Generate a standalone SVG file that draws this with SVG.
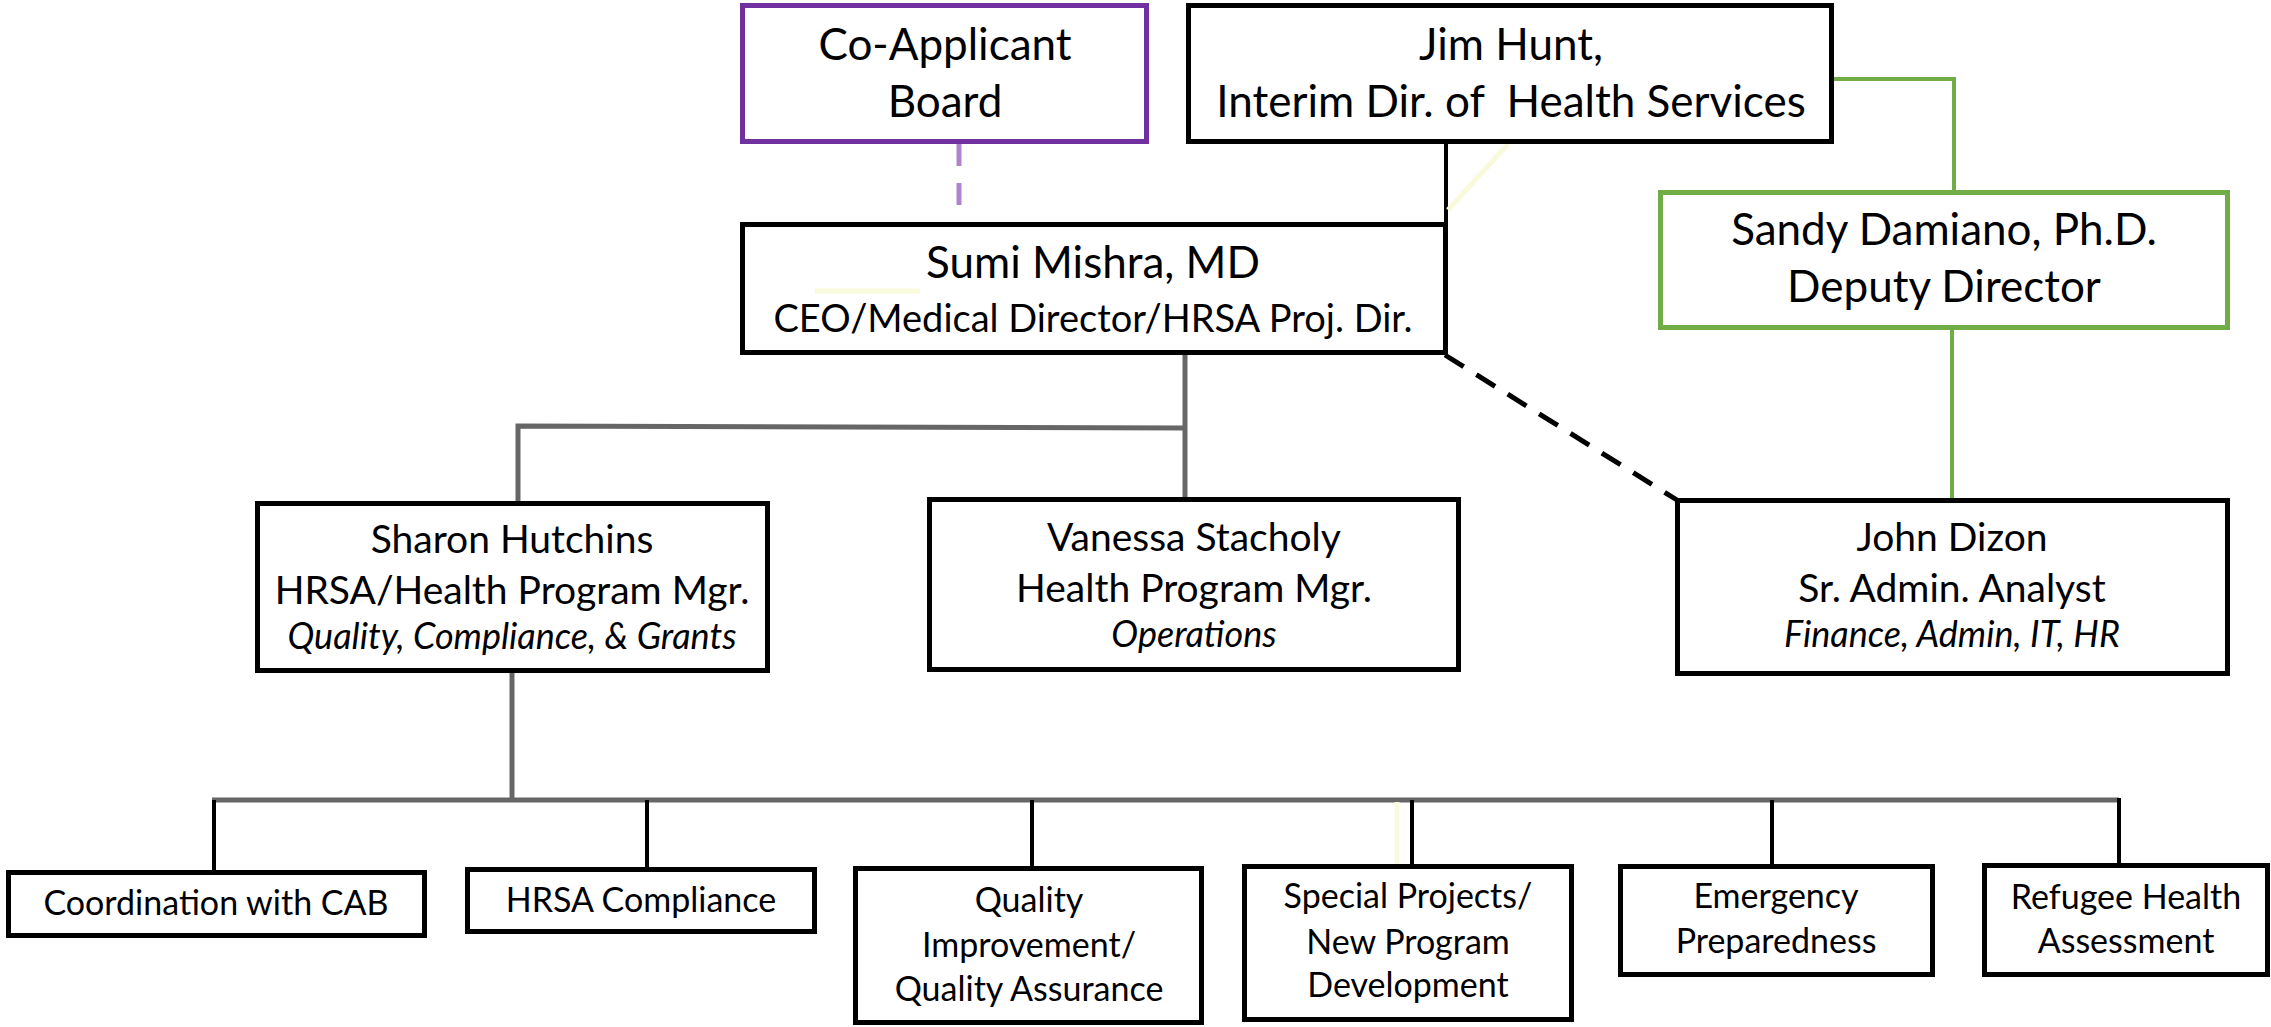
<svg xmlns="http://www.w3.org/2000/svg" width="2271" height="1027" viewBox="0 0 2271 1027">
<style>
text{font-family:Lato,"Open Sans","Liberation Sans",sans-serif;fill:#000;text-anchor:middle}
.box{fill:#fff;stroke:#000;stroke-width:5}
.purple{fill:#fff;stroke:#7030a0;stroke-width:5}
.green{fill:#fff;stroke:#70ad47;stroke-width:5}
.big{font-size:44px}
.ceo{font-size:38px}
.mid{font-size:39px}
.it{font-size:36px;font-style:italic}
.sm{font-size:34px}
.gray{stroke:#666;stroke-width:5;fill:none}
.blk{stroke:#000;stroke-width:4;fill:none}
.gln{stroke:#70ad47;stroke-width:4;fill:none}
.pale{stroke:#f8fadb;stroke-width:5;fill:none}
</style>
<rect width="2271" height="1027" fill="#fff"/>
<g id="connectors">
<line x1="959" y1="144" x2="959" y2="222" stroke="#b084cc" stroke-width="5" stroke-dasharray="22,17"/>
<line class="blk" x1="1446" y1="142" x2="1446" y2="226" stroke-width="5"/>
<line class="pale" x1="1508" y1="144" x2="1448" y2="210"/>
<polyline class="gln" points="1834,79 1954,79 1954,191"/>
<line class="gln" x1="1952" y1="328" x2="1952" y2="500"/>
<line x1="1445" y1="355" x2="1677" y2="500" stroke="#000" stroke-width="5" stroke-dasharray="22,15"/>
<polyline class="gray" points="1185,355 1185,428"/>
<polyline class="gray" points="1187,428 518,426 518,502"/>
<line class="gray" x1="1185" y1="428" x2="1185" y2="498"/>
<line class="gray" x1="512" y1="673" x2="512" y2="800"/>
<line class="gray" x1="212" y1="800" x2="2119" y2="800"/>
<line class="blk" x1="214" y1="800" x2="214" y2="871"/>
<line class="blk" x1="647" y1="800" x2="647" y2="868"/>
<line class="blk" x1="1032" y1="800" x2="1032" y2="867"/>
<line class="pale" x1="1397" y1="802" x2="1397" y2="872" stroke-width="3"/>
<line class="blk" x1="1412" y1="800" x2="1412" y2="865"/>
<line class="blk" x1="1772" y1="800" x2="1772" y2="865"/>
<line class="blk" x1="2119" y1="798" x2="2119" y2="864"/>
</g>
<g id="co-applicant-board">
<rect class="purple" x="742.5" y="5.5" width="404" height="136"/>
<text class="big" x="945" y="60">Co-Applicant</text>
<text class="big" x="945" y="117">Board</text>
</g>
<g id="jim-hunt">
<rect class="box" x="1188.5" y="5.5" width="643" height="136"/>
<text class="big" x="1511" y="60">Jim Hunt,</text>
<text class="big" x="1511" y="117" xml:space="preserve">Interim Dir. of  Health Services</text>
</g>
<g id="sumi-mishra">
<rect class="box" x="742.5" y="224.5" width="703" height="128"/>
<line class="pale" x1="815" y1="291" x2="920" y2="291"/>
<text class="big" x="1093" y="278">Sumi Mishra, MD</text>
<text class="ceo" x="1093" y="332">CEO/Medical Director/HRSA Proj. Dir.</text>
</g>
<g id="sandy-damiano">
<rect class="green" x="1660.5" y="192.5" width="567" height="135"/>
<text class="big" x="1944" y="245">Sandy Damiano, Ph.D.</text>
<text class="big" x="1944" y="302">Deputy Director</text>
</g>
<g id="sharon-hutchins">
<rect class="box" x="257.5" y="503.5" width="510" height="167"/>
<text class="mid" x="512" y="553">Sharon Hutchins</text>
<text class="mid" x="512" y="604">HRSA/Health Program Mgr.</text>
<text class="it" x="512" y="649">Quality, Compliance, &amp; Grants</text>
</g>
<g id="vanessa-stacholy">
<rect class="box" x="929.5" y="499.5" width="529" height="170"/>
<text class="mid" x="1194" y="551">Vanessa Stacholy</text>
<text class="mid" x="1194" y="602">Health Program Mgr.</text>
<text class="it" x="1194" y="647">Operations</text>
</g>
<g id="john-dizon">
<rect class="box" x="1677.5" y="500.5" width="550" height="173"/>
<text class="mid" x="1952" y="551">John Dizon</text>
<text class="mid" x="1952" y="602">Sr. Admin. Analyst</text>
<text class="it" x="1952" y="647">Finance, Admin, IT, HR</text>
</g>
<g id="coordination-cab">
<rect class="box" x="8.5" y="872.5" width="416" height="63"/>
<text class="sm" x="216" y="915">Coordination with CAB</text>
</g>
<g id="hrsa-compliance">
<rect class="box" x="467.5" y="869.5" width="347" height="62"/>
<text class="sm" x="641" y="912">HRSA Compliance</text>
</g>
<g id="quality">
<rect class="box" x="855.5" y="868.5" width="346" height="154"/>
<text class="sm" x="1029" y="912">Quality</text>
<text class="sm" x="1029" y="957">Improvement/</text>
<text class="sm" x="1029" y="1001">Quality Assurance</text>
</g>
<g id="special-projects">
<rect class="box" x="1244.5" y="866.5" width="327" height="153"/>
<text class="sm" x="1408" y="908">Special Projects/</text>
<text class="sm" x="1408" y="954">New Program</text>
<text class="sm" x="1408" y="997">Development</text>
</g>
<g id="emergency">
<rect class="box" x="1620.5" y="866.5" width="312" height="108"/>
<text class="sm" x="1776" y="908">Emergency</text>
<text class="sm" x="1776" y="953">Preparedness</text>
</g>
<g id="refugee">
<rect class="box" x="1984.5" y="865.5" width="283" height="109"/>
<text class="sm" x="2126" y="909">Refugee Health</text>
<text class="sm" x="2126" y="953">Assessment</text>
</g>
</svg>
